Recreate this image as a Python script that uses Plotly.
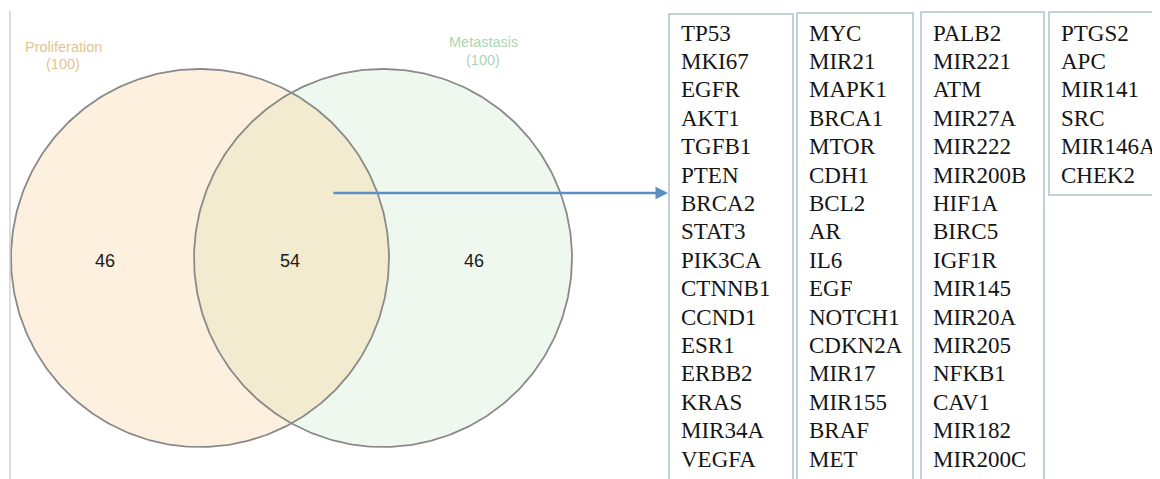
import numpy as np
import plotly.graph_objects as go

# ---- data ----
set_labels = ["Proliferation", "Metastasis"]
set_sizes = [100, 100]
region_labels = ["Proliferation only", "Both", "Metastasis only"]
region_counts = [46, 54, 46]

genes_col1 = ["TP53", "MKI67", "EGFR", "AKT1", "TGFB1", "PTEN", "BRCA2", "STAT3",
              "PIK3CA", "CTNNB1", "CCND1", "ESR1", "ERBB2", "KRAS", "MIR34A", "VEGFA"]
genes_col2 = ["MYC", "MIR21", "MAPK1", "BRCA1", "MTOR", "CDH1", "BCL2", "AR",
              "IL6", "EGF", "NOTCH1", "CDKN2A", "MIR17", "MIR155", "BRAF", "MET"]
genes_col3 = ["PALB2", "MIR221", "ATM", "MIR27A", "MIR222", "MIR200B", "HIF1A", "BIRC5",
              "IGF1R", "MIR145", "MIR20A", "MIR205", "NFKB1", "CAV1", "MIR182", "MIR200C"]
genes_col4 = ["PTGS2", "APC", "MIR141", "SRC", "MIR146A", "CHEK2"]
gene_columns = [genes_col1, genes_col2, genes_col3, genes_col4]

# ---- layout geometry (page-pixel space; page body has an 8px margin) ----
W, H = 1160, 479
OFF = 8
R = 189
cy = 258
cx_left, cx_right = 200, 383
peach, green, lens = "#fdf0df", "#eef8ee", "#f3ebcf"
outline = "#8a8a8a"

fig = go.Figure()

t = np.linspace(0, 2 * np.pi, 400)

def circle(cx):
    return cx + R * np.cos(t), cy + R * np.sin(t)

xl, yl = circle(cx_left)
xr, yr = circle(cx_right)
fig.add_trace(go.Scatter(x=xl, y=yl, fill="toself", fillcolor=peach, mode="lines",
                         line=dict(width=0), hoverinfo="skip", showlegend=False))
fig.add_trace(go.Scatter(x=xr, y=yr, fill="toself", fillcolor=green, mode="lines",
                         line=dict(width=0), hoverinfo="skip", showlegend=False))

# lens (intersection)
d = cx_right - cx_left
half = np.arccos(d / 2 / R)
a1 = np.linspace(-half, half, 200)
a2 = np.linspace(np.pi - half, np.pi + half, 200)
lx = np.concatenate([cx_left + R * np.cos(a1), cx_right + R * np.cos(a2)])
ly = np.concatenate([cy + R * np.sin(a1), cy + R * np.sin(a2)])
fig.add_trace(go.Scatter(x=lx, y=ly, fill="toself", fillcolor=lens, mode="lines",
                         line=dict(width=0), hoverinfo="skip", showlegend=False))

for xx, yy in [(xl, yl), (xr, yr)]:
    fig.add_trace(go.Scatter(x=xx, y=yy, mode="lines", line=dict(color=outline, width=1.8),
                             hoverinfo="skip", showlegend=False))

annotations = []
title_colors = ["#e3c391", "#acd6b2"]
title_pos = [(63, 47, 64), (483, 42, 60)]
for lab, size, col, (x, y1, y2) in zip(set_labels, set_sizes, title_colors, title_pos):
    annotations.append(dict(x=x, y=y1, text=lab, showarrow=False, xanchor="center", yanchor="middle",
                            font=dict(family="Liberation Sans", size=14.5, color=col)))
    annotations.append(dict(x=x, y=y2, text=f"({size})", showarrow=False, xanchor="center", yanchor="middle",
                            font=dict(family="Liberation Sans", size=14.5, color=col)))

count_x = [105, 290, 474]
for cnt, x in zip(region_counts, count_x):
    annotations.append(dict(x=x, y=261, text=str(cnt), showarrow=False, xanchor="center", yanchor="middle",
                            font=dict(family="Liberation Sans", size=18, color="#1a1a1a")))

annotations.append(dict(x=668, y=193, ax=332, ay=193, axref="x", ayref="y", xref="x", yref="y",
                        showarrow=True, arrowhead=2, arrowsize=1, arrowwidth=2.5,
                        arrowcolor="#5b8fc3", text=""))

box_lefts = [669, 797, 921, 1049]
box_rights = [793, 913, 1044, 1157]
box_tops = [14, 13, 12, 12]
row0, dy = 33, 28.4
shapes = []
for col, bl, br, bt in zip(gene_columns, box_lefts, box_rights, box_tops):
    bb = H + 5 if len(col) > 8 else row0 + dy * (len(col) - 1) + 20
    shapes.append(dict(type="rect", x0=bl, x1=br, y0=bt, y1=bb, xref="x", yref="y",
                       line=dict(color="#a9c3cb", width=1.5), fillcolor="rgba(0,0,0,0)"))
    for i, g in enumerate(col):
        annotations.append(dict(x=bl + 10, y=row0 + dy * i, text=g, showarrow=False,
                                xanchor="left", yanchor="middle",
                                font=dict(family="Liberation Serif", size=23, color="#151515")))

shapes.append(dict(type="line", x0=10, x1=10, y0=11, y1=H, xref="x", yref="y",
                   line=dict(color="#c4c4c4", width=1.2)))

plot_w = W - OFF          # div starts at x=8 and reaches the window edge
plot_h = H - OFF          # div starts at y=8 and reaches the window bottom
fig.update_layout(
    width=plot_w, height=plot_h, margin=dict(l=0, r=0, t=0, b=0),
    paper_bgcolor="white", plot_bgcolor="white",
    xaxis=dict(range=[OFF, OFF + plot_w], visible=False, fixedrange=True),
    yaxis=dict(range=[OFF + plot_h, OFF], visible=False, fixedrange=True),
    shapes=shapes, annotations=annotations,
)

fig.write_html("out.html")
